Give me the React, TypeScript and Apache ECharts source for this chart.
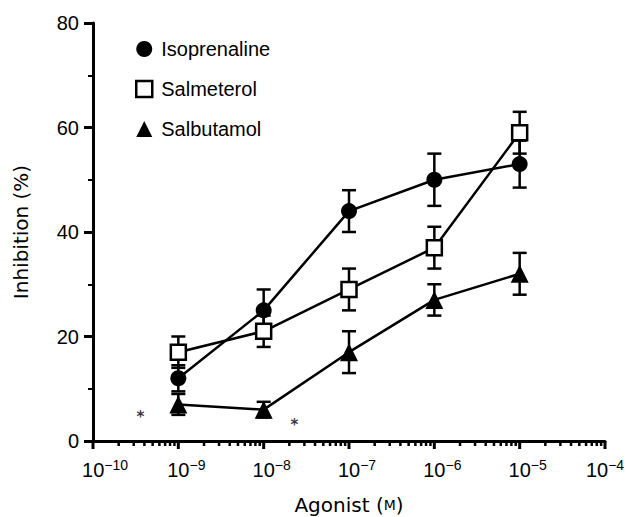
import React, { useEffect, useRef } from "react";
import * as echarts from "echarts";

const concentrations = [1e-9, 1e-8, 1e-7, 1e-6, 1e-5];
const isoprenaline = [12, 25, 44, 50, 53];
const isoprenalineErr = [2.5, 4, 4, 5, 4.5];
const salmeterol = [17, 21, 29, 37, 59];
const salmeterolErr = [3, 3, 4, 4, 4];
const salbutamol = [7, 6, 17, 27, 32];
const salbutamolErr = [2, 1.5, 4, 3, 4];
const asteriskX = [3.6e-10, 2.3e-8];
const asteriskY = [5.6, 4.1];
const yTicks = [0, 20, 40, 60, 80];
const decadeExponents = [-10, -9, -8, -7, -6, -5, -4];
const minorMultipliers = [2, 3, 4, 5, 6, 7, 8, 9];

const FONT = "Liberation Sans";
const NAME_FONT = "DejaVu Sans";

function errData(vals: number[], errs: number[]) {
  return concentrations.map((c, i) => [c, vals[i] - errs[i], vals[i] + errs[i]]);
}

export default function App() {
  const ref = useRef<HTMLDivElement>(null);
  useEffect(() => {
    document.body.style.margin = "0";
    if (!ref.current) return;
    const chart = echarts.init(ref.current, undefined, { renderer: "svg" });

    const errRender = (params: any, api: any) => {
      const x = api.value(0);
      const lo = api.coord([x, api.value(1)]);
      const hi = api.coord([x, api.value(2)]);
      const w = 7;
      const st = { stroke: "#000", lineWidth: 2.5 };
      return {
        type: "group",
        children: [
          { type: "line", shape: { x1: lo[0], y1: lo[1], x2: hi[0], y2: hi[1] }, style: st },
          { type: "line", shape: { x1: lo[0] - w, y1: lo[1], x2: lo[0] + w, y2: lo[1] }, style: st },
          { type: "line", shape: { x1: hi[0] - w, y1: hi[1], x2: hi[0] + w, y2: hi[1] }, style: st },
        ],
      };
    };

    const mk = (vals: number[]) => concentrations.map((c, i) => [c, vals[i]]);

    chart.setOption({
      animation: false,
      grid: { left: 93, right: 23, top: 23, bottom: 76, containLabel: false, outerBoundsMode: "none" },
      legend: {
        orient: "vertical",
        left: 130,
        top: 34,
        itemGap: 20,
        itemWidth: 16,
        itemHeight: 16,
        textStyle: { fontFamily: FONT, fontSize: 20, color: "#000", padding: [0, 0, 0, 4] },
        data: [
          { name: "Isoprenaline", icon: "circle", itemStyle: { color: "#000" } },
          { name: "Salmeterol", icon: "rect", itemStyle: { color: "#fff", borderColor: "#000", borderWidth: 2.5 } },
          { name: "Salbutamol", icon: "triangle", itemStyle: { color: "#000" } },
        ],
      },
      xAxis: {
        type: "log",
        logBase: 10,
        min: 1e-10,
        max: 1e-4,
        interval: 1,
        name: "Agonist ({m|M})",
        nameLocation: "middle",
        nameGap: 54,
        nameTextStyle: {
          fontFamily: NAME_FONT,
          fontSize: 20,
          color: "#000",
          rich: { m: { fontFamily: NAME_FONT, fontSize: 14, color: "#000" } },
        },
        axisLine: { lineStyle: { color: "#000", width: 3 } },
        axisTick: { show: false },
        splitLine: { show: false },
        axisLabel: {
          margin: 17,
          formatter: (v: number) => {
            const e = Math.round(Math.log10(v));
            const pad = e >= -4 ? "" : Math.abs(e) >= 10 ? "{p2|}" : "{p1|}";
            return pad + "{b|10}{s|\u2212" + Math.abs(e) + "}";
          },
          rich: {
            p1: { width: 16 },
            p2: { width: 24 },
            b: { fontFamily: FONT, fontSize: 20, color: "#000" },
            s: { fontFamily: FONT, fontSize: 14, color: "#000", padding: [0, 0, 10, 0] },
          },
        },
      },
      yAxis: {
        type: "value",
        min: yTicks[0],
        max: yTicks[yTicks.length - 1],
        interval: 20,
        name: "Inhibition (%)",
        nameLocation: "middle",
        nameGap: 62,
        nameTextStyle: { fontFamily: NAME_FONT, fontSize: 20, color: "#000" },
        axisLine: { show: true, lineStyle: { color: "#000", width: 3 } },
        axisTick: { show: true, length: 9, lineStyle: { color: "#000", width: 3 } },
        minorTick: { show: true, splitNumber: 2, length: 5, lineStyle: { color: "#000", width: 2 } },
        splitLine: { show: false },
        axisLabel: { fontFamily: FONT, fontSize: 20, color: "#000", margin: 14 },
      },
      series: [
        { type: "custom", name: "e1", silent: true, z: 2, data: errData(isoprenaline, isoprenalineErr), renderItem: errRender },
        { type: "custom", name: "e2", silent: true, z: 2, data: errData(salmeterol, salmeterolErr), renderItem: errRender },
        { type: "custom", name: "e3", silent: true, z: 2, data: errData(salbutamol, salbutamolErr), renderItem: errRender },
        {
          type: "line",
          name: "Isoprenaline",
          z: 3,
          data: mk(isoprenaline),
          symbol: "circle",
          symbolSize: 16,
          lineStyle: { color: "#000", width: 2.5 },
          itemStyle: { color: "#000" },
        },
        {
          type: "line",
          name: "Salmeterol",
          z: 4,
          data: mk(salmeterol),
          symbol: "rect",
          symbolSize: 15,
          lineStyle: { color: "#000", width: 2.5 },
          itemStyle: { color: "#fff", borderColor: "#000", borderWidth: 2.5 },
        },
        {
          type: "line",
          name: "Salbutamol",
          z: 3,
          data: mk(salbutamol),
          symbol: "triangle",
          symbolSize: 18,
          lineStyle: { color: "#000", width: 2.5 },
          itemStyle: { color: "#000" },
        },
        {
          type: "scatter",
          name: "asterisk",
          silent: true,
          symbolSize: 1,
          itemStyle: { color: "rgba(0,0,0,0)" },
          data: asteriskX.map((x, i) => [x, asteriskY[i]]),
          label: {
            show: true,
            position: "inside",
            offset: [0, 5],
            formatter: "*",
            fontFamily: "DejaVu Sans",
            fontWeight: "bold",
            fontSize: 15,
            color: "#000",
          },
        },
      ],
    });

    // x-axis ticks (major decades + minor 2..9), positioned through the axis scale
    const ticks: any[] = [];
    decadeExponents.forEach((e) => {
      const base = Math.pow(10, e);
      const p = chart.convertToPixel({ xAxisIndex: 0, yAxisIndex: 0 }, [base, 0]) as number[];
      ticks.push({
        type: "line",
        z: 100,
        silent: true,
        shape: { x1: p[0], y1: p[1], x2: p[0], y2: p[1] + 8 },
        style: { stroke: "#000", lineWidth: 3 },
      });
      if (e < -4) {
        minorMultipliers.forEach((m) => {
          const q = chart.convertToPixel({ xAxisIndex: 0, yAxisIndex: 0 }, [m * base, 0]) as number[];
          ticks.push({
            type: "line",
            z: 100,
            silent: true,
            shape: { x1: q[0], y1: q[1], x2: q[0], y2: q[1] + 5 },
            style: { stroke: "#000", lineWidth: 2.5 },
          });
        });
      }
    });
    chart.setOption({ graphic: ticks });

    return () => chart.dispose();
  }, []);
  return <div ref={ref} style={{ width: 628, height: 517 }} />;
}
